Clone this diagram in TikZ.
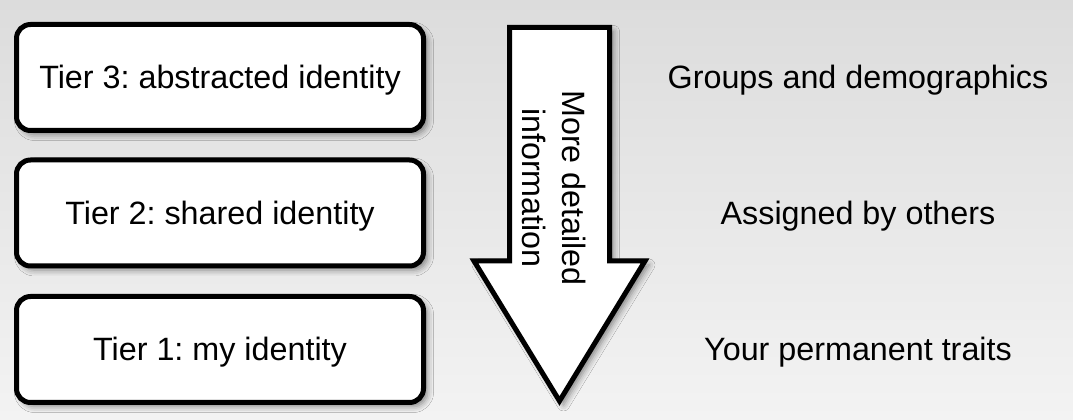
\documentclass[tikz,border=0pt]{standalone}
\usepackage{fontspec}
\setmainfont{Liberation Sans}
\usetikzlibrary{shadows.blur}
\frenchspacing
\tikzset{
  tierbox/.style={draw=black, fill=white, line width=5pt, rounded corners=14pt,
    minimum width=407pt, minimum height=106pt, font=\fontsize{32.3}{38}\selectfont,
    text height=29pt, text depth=6pt, inner sep=0pt,
    blur shadow={shadow xshift=4pt, shadow yshift=-4pt, shadow blur radius=6pt, shadow opacity=45}},
  sidelabel/.style={font=\fontsize{32.3}{38}\selectfont, text height=29pt, text depth=6pt, inner sep=0pt},
  bigarrow/.style={draw=black, fill=white, line width=5pt, miter limit=10,
    blur shadow={shadow xshift=4pt, shadow yshift=-4pt, shadow blur radius=6pt, shadow opacity=45}}
}
\begin{document}
\frenchspacing
\begin{tikzpicture}[x=1pt,y=1pt]
\useasboundingbox (0,0) rectangle (1073,420);
\shade[top color={rgb,255:red,220;green,220;blue,220}, bottom color={rgb,255:red,243;green,243;blue,243}] (0,0) rectangle (1073,420);
\node[tierbox] (t3) at (220,342.5) {Tier 3: abstracted identity};
\node[tierbox] (t2) at (220,207) {Tier 2: shared identity};
\node[tierbox] (t1) at (220,70.5) {Tier 1: my identity};
\draw[bigarrow] (509.5,392.5) -- (609.5,392.5) -- (609.5,159) -- (645,159) -- (559.5,19) -- (474,159) -- (509.5,159) -- cycle;
\node[rotate=-90, align=center, font=\fontsize{32.3}{40}\selectfont, inner sep=0pt] (arrtext) at (554,232) {More detailed\\information};
\node[sidelabel] (l3) at (858,342.5) {Groups and demographics};
\node[sidelabel] (l2) at (858,207) {Assigned by others};
\node[sidelabel] (l1) at (858,70.5) {Your permanent traits};
\end{tikzpicture}
\end{document}
